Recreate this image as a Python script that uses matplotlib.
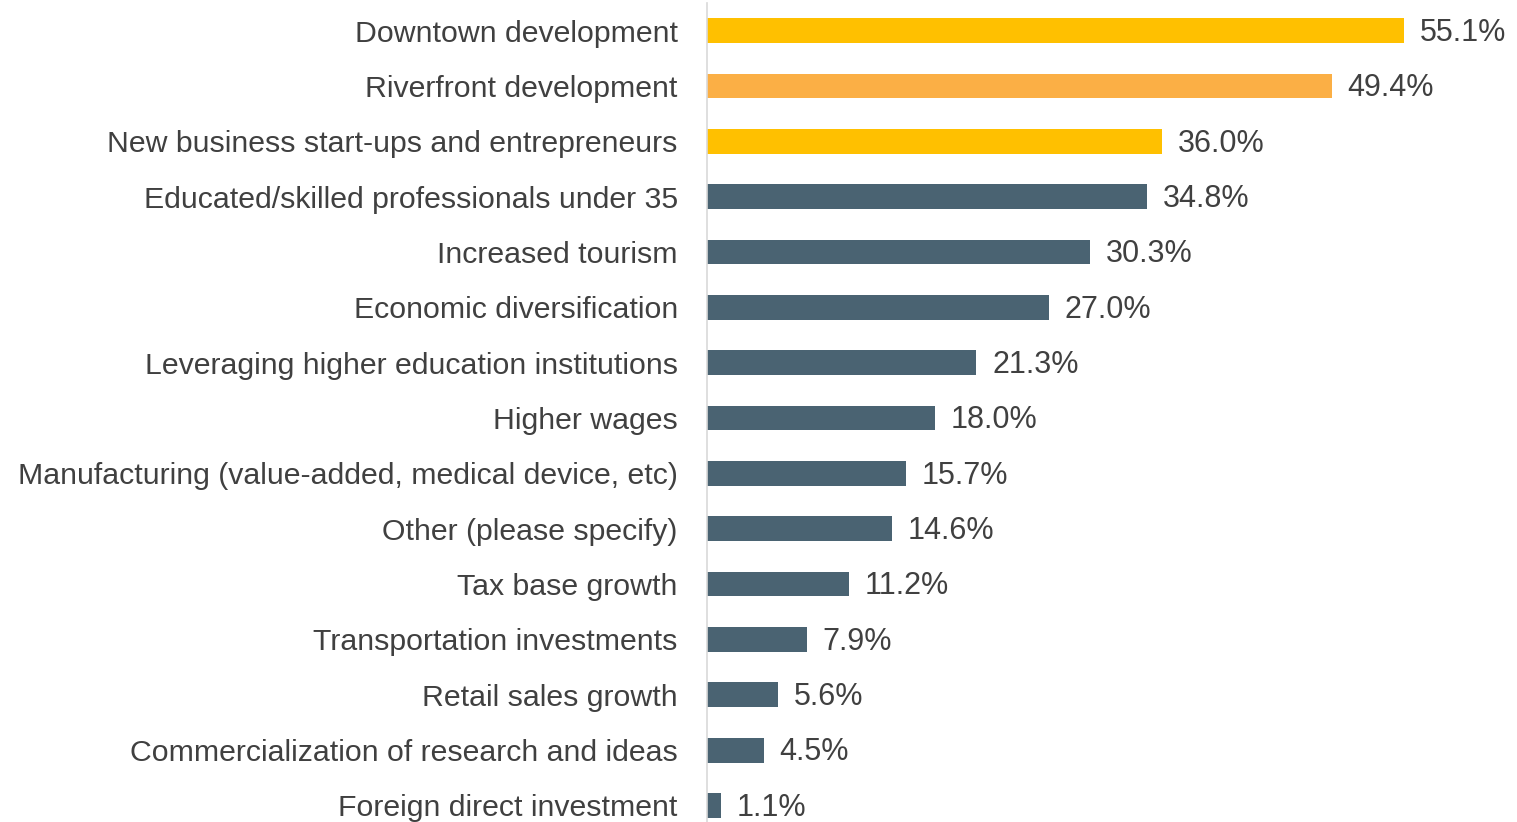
import matplotlib.pyplot as plt

categories = [
    "Downtown development",
    "Riverfront development",
    "New business start-ups and entrepreneurs",
    "Educated/skilled professionals under 35",
    "Increased tourism",
    "Economic diversification",
    "Leveraging higher education institutions",
    "Higher wages",
    "Manufacturing (value-added, medical device, etc)",
    "Other (please specify)",
    "Tax base growth",
    "Transportation investments",
    "Retail sales growth",
    "Commercialization of research and ideas",
    "Foreign direct investment",
]
values = [55.1, 49.4, 36.0, 34.8, 30.3, 27.0, 21.3, 18.0, 15.7, 14.6, 11.2, 7.9, 5.6, 4.5, 1.1]
colors = ["#FFC000", "#FBAF45", "#FFC000"] + ["#4A6372"] * 12

plt.rcParams['font.family'] = ['Liberation Sans', 'DejaVu Sans']
text_color = "#404040"

fig = plt.figure(figsize=(15.17, 8.22), dpi=100)
ax = fig.add_axes([707 / 1517, 0, 1 - 707 / 1517, 819 / 822])

ypos = list(range(len(categories)))
ax.barh(ypos, values, height=0.45, color=colors)

# value labels just right of each bar
for y, v in zip(ypos, values):
    ax.text(v + 1.25, y + 0.04, f"{v:.1f}%", va='center', ha='left',
            fontsize=22, color=text_color)

ax.set_yticks(ypos)
ax.set_yticklabels(categories, fontsize=21.8, color=text_color)
ax.tick_params(axis='y', length=0, pad=21)
ax.set_xticks([])
ax.set_xlim(0, 810 / 12.65)
ax.set_ylim(14.3, -0.5)

for side in ['top', 'right', 'bottom']:
    ax.spines[side].set_visible(False)
ax.spines['left'].set_color('#D9D9D9')
ax.spines['left'].set_linewidth(1.2)

fig.savefig("out.png", dpi=100)
